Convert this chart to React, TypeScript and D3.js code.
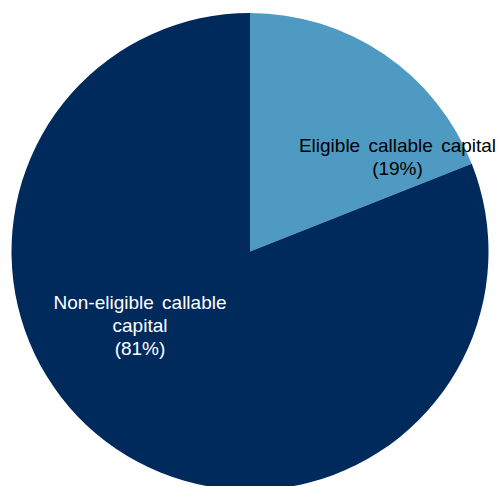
import React from "react";
import * as d3 from "d3";

const categories = ["Eligible callable capital", "Non-eligible callable capital"];
const values = [19, 81];
const colors = ["#4E9AC3", "#002A5C"];
const labelLines = [
  ["Eligible callable capital", "(19%)"],
  ["Non-eligible callable", "capital", "(81%)"],
];
const labelColors = ["#000000", "#FFFFFF"];

export default function App() {
  const W = 498, H = 486;
  const cx = 250, cy = 251.5, r = 238.5;
  const pie = d3.pie<number>().sort(null).value((d) => d);
  const arcs = pie(values);
  const arc = d3.arc<d3.PieArcDatum<number>>().innerRadius(0).outerRadius(r);
  const labelPos = [
    [397.5, 151.7],
    [140, 309],
  ];
  return (
    <svg width={W} height={H} style={{ position: "absolute", left: 0, top: 0 }}>
      <rect width={W} height={H} fill="#fff" />
      <g transform={`translate(${cx},${cy})`}>
        {arcs.map((a, i) => (
          <path key={categories[i]} d={arc(a) || ""} fill={colors[i]} />
        ))}
      </g>
      {labelLines.map((lines, i) => (
        <text
          key={i}
          x={labelPos[i][0]}
          y={labelPos[i][1]}
          textAnchor="middle"
          fontFamily="Liberation Sans, Arial, sans-serif"
          fontSize={19}
          wordSpacing={3}
          fill={labelColors[i]}
        >
          {lines.map((l, j) => (
            <tspan key={j} x={labelPos[i][0]} dy={j === 0 ? 0 : 23}>
              {l}
            </tspan>
          ))}
        </text>
      ))}
    </svg>
  );
}
